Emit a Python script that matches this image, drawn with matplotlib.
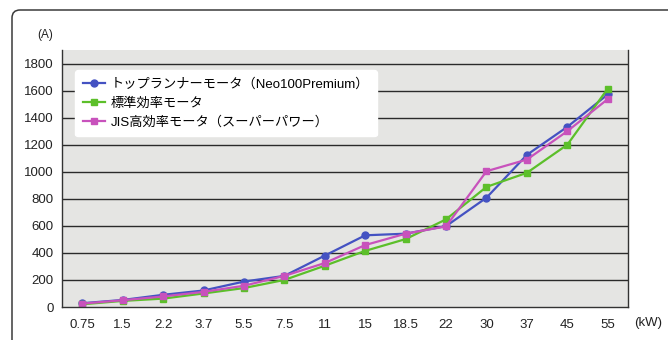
import matplotlib.pyplot as plt
import numpy as np
from matplotlib.path import Path
from matplotlib.patches import PathPatch

plt.rcParams['font.family'] = ['Liberation Sans', 'Noto Sans CJK JP', 'DejaVu Sans']

kw = ['0.75', '1.5', '2.2', '3.7', '5.5', '7.5', '11', '15', '18.5', '22', '30', '37', '45', '55']
toprunner = [28, 52, 90, 122, 188, 230, 380, 530, 542, 598, 808, 1125, 1332, 1572]
standard = [20, 45, 62, 100, 140, 200, 305, 415, 502, 648, 888, 992, 1200, 1615]
jis = [25, 50, 78, 112, 157, 230, 325, 458, 542, 596, 1004, 1090, 1300, 1537]

names = ['トップランナーモータ（Neo100Premium）', '標準効率モータ', 'JIS高効率モータ（スーパーパワー）']
colors = ['#4452c2', '#5cbf2a', '#c852bc']
markers = ['o', 's', 's']

W, H = 668, 340
fig = plt.figure(figsize=(W / 100, H / 100), dpi=100)

# outer frame: left and top edge with a rounded corner (pixel coords)
r = 8
verts = [(12, 0), (12, H - 10 - r), (12, H - 10), (12 + r, H - 10), (W, H - 10)]
codes = [Path.MOVETO, Path.LINETO, Path.CURVE3, Path.CURVE3, Path.LINETO]
verts = [(vx / W, vy / H) for vx, vy in verts]
fig.patches.append(PathPatch(Path(verts, codes), transform=fig.transFigure,
                             fill=False, edgecolor='#3a3a3a', linewidth=1.1))

ax = fig.add_axes([62 / W, 33 / H, 566 / W, 257 / H])
ax.set_facecolor('#e5e5e3')

x = np.arange(len(kw))
for y, name, c, m in zip([toprunner, standard, jis], names, colors, markers):
    ax.plot(x, y, color=c, marker=m, markersize=5, linewidth=1.6, label=name)

ax.set_xlim(-0.5, len(kw) - 0.5)
ax.set_ylim(0, 1900)
ax.set_yticks(range(0, 1801, 200))
ax.set_xticks(x)
ax.set_xticklabels(kw)
ax.tick_params(length=0, labelsize=9.5, colors='#222222', pad=6)
ax.tick_params(axis='x', pad=9)
for v in range(200, 1801, 200):
    ax.axhline(v, color='#2a2a2a', linewidth=1.0, zorder=1)

for s in ['left', 'bottom', 'right']:
    ax.spines[s].set_color('#333333')
    ax.spines[s].set_linewidth(1.0)
ax.spines['top'].set_visible(False)

fig.text(45 / W, 1 - 35 / H, '(A)', ha='center', va='center', fontsize=8.5, color='#222222')
fig.text(648 / W, 1 - 323 / H, '(kW)', ha='center', va='center', fontsize=9.5, color='#222222')

leg = ax.legend(loc='upper left', bbox_to_anchor=(0.023, 0.922), fontsize=9.5,
                frameon=True, fancybox=True, handlelength=1.7, handletextpad=0.4,
                borderpad=0.6, labelspacing=0.5, borderaxespad=0)
leg.get_frame().set_facecolor('white')
leg.get_frame().set_edgecolor('white')
leg.get_frame().set_alpha(1)

fig.savefig('out.png', dpi=100)
